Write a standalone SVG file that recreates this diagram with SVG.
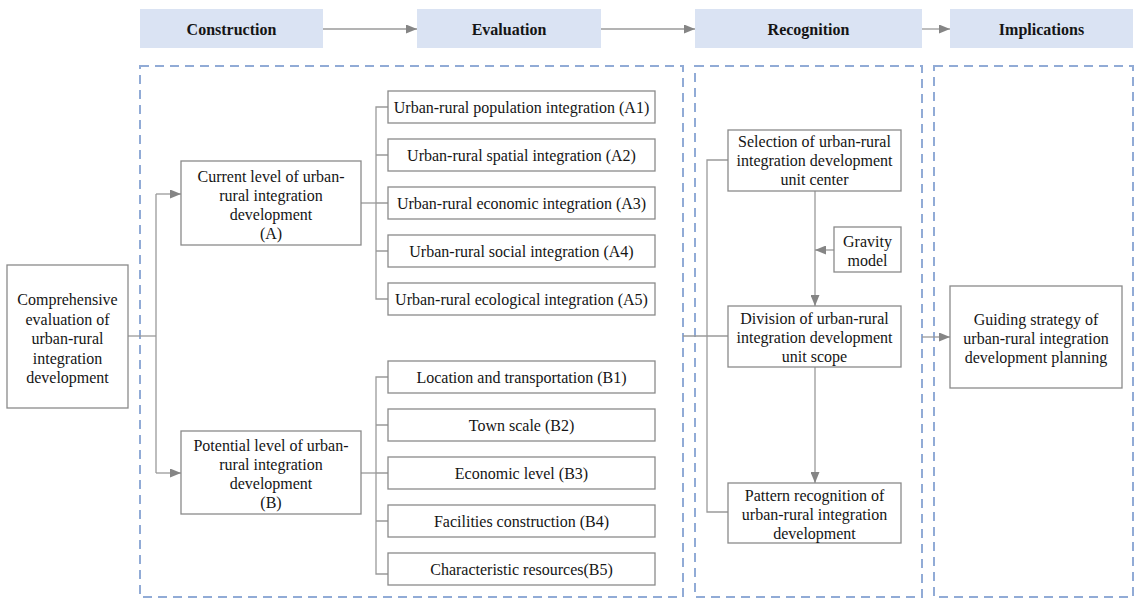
<svg xmlns="http://www.w3.org/2000/svg" width="1138" height="600" viewBox="0 0 1138 600" font-family="'Liberation Serif', Tinos, 'Times New Roman', 'DejaVu Serif', serif">
  <style>
    text { font-family: "Liberation Serif", Tinos, "Times New Roman", "DejaVu Serif", serif; font-size: 16px; fill: #151515; text-anchor: middle; }
    .hdr rect { fill: #dae3f3; }
    .hdr text { font-weight: bold; }
    .box { fill: #ffffff; stroke: #8a8a8a; stroke-width: 1.3; }
    .zone { fill: none; stroke: #91abd6; stroke-width: 2; stroke-dasharray: 9 6; }
    .link { fill: none; stroke: #9a9a9a; stroke-width: 1.3; }
    .arrow { marker-end: url(#head); }
  </style>
  <defs>
    <marker id="head" markerUnits="userSpaceOnUse" markerWidth="11" markerHeight="9" refX="11" refY="4.5" orient="auto">
      <path d="M0,0 L11,4.5 L0,9 z" fill="#858585"/>
    </marker>
  </defs>

  <rect width="1138" height="600" fill="#ffffff"/>

  <!-- stage headers -->
  <g id="hdr-construction" class="hdr"><rect x="140" y="9" width="183" height="39"/><text x="231.5" y="34.5">Construction</text></g>
  <g id="hdr-evaluation" class="hdr"><rect x="417" y="9" width="184" height="39"/><text x="509" y="34.5">Evaluation</text></g>
  <g id="hdr-recognition" class="hdr"><rect x="695" y="9" width="227" height="39"/><text x="808.5" y="34.5">Recognition</text></g>
  <g id="hdr-implications" class="hdr"><rect x="950" y="9" width="183" height="39"/><text x="1041.5" y="34.5">Implications</text></g>

  <!-- dashed stage zones -->
  <g id="zones">
    <rect class="zone" x="140" y="66" width="543" height="531"/>
    <rect class="zone" x="695" y="66" width="227" height="531"/>
    <rect class="zone" x="934" y="66" width="199" height="531"/>
  </g>

  <!-- connectors -->
  <g id="connectors">
    <line class="link arrow" x1="323" y1="29" x2="417" y2="29"/>
    <line class="link arrow" x1="601" y1="29" x2="695" y2="29"/>
    <line class="link arrow" x1="922" y1="29" x2="950" y2="29"/>

    <!-- comprehensive evaluation to A / B -->
    <line class="link" x1="128" y1="336" x2="156" y2="336"/>
    <line class="link" x1="156" y1="194" x2="156" y2="473"/>
    <line class="link arrow" x1="156" y1="194" x2="181" y2="194"/>
    <line class="link arrow" x1="156" y1="473" x2="181" y2="473"/>

    <!-- A to A1..A5 -->
    <line class="link" x1="361" y1="203" x2="376" y2="203"/>
    <path class="link" d="M388,107 H376 V299 H388 M376,155 H388 M376,251 H388 M376,203 H388"/>

    <!-- B to B1..B5 -->
    <line class="link" x1="361" y1="473" x2="376" y2="473"/>
    <path class="link" d="M388,377 H376 V574 H388 M376,425 H388 M376,521 H388 M376,473 H388"/>

    <!-- evaluation to recognition -->
    <line class="link" x1="683" y1="336" x2="728" y2="336"/>
    <path class="link" d="M728,160 H707 V512 H728"/>
    <line class="link arrow" x1="815" y1="191" x2="815" y2="306"/>
    <line class="link arrow" x1="834" y1="250" x2="815" y2="250"/>
    <line class="link arrow" x1="815" y1="367" x2="815" y2="483"/>

    <!-- recognition to implications -->
    <line class="link arrow" x1="922" y1="337" x2="950" y2="337"/>
  </g>

  <g id="n-comprehensive">
    <rect class="box" x="7" y="265" width="121" height="143"/>
    <text x="67.5" y="305">Comprehensive</text>
    <text x="67.5" y="324.5">evaluation of</text>
    <text x="67.5" y="344">urban-rural</text>
    <text x="67.5" y="363.5">integration</text>
    <text x="67.5" y="383">development</text>
  </g>

  <g id="n-current">
    <rect class="box" x="181" y="161" width="180" height="84"/>
    <text x="271" y="181.5">Current level of urban-</text>
    <text x="271" y="200.5">rural integration</text>
    <text x="271" y="219.5">development</text>
    <text x="271" y="238.5">(A)</text>
  </g>

  <g id="n-potential">
    <rect class="box" x="181" y="431" width="180" height="83"/>
    <text x="271" y="450.5">Potential level of urban-</text>
    <text x="271" y="469.5">rural integration</text>
    <text x="271" y="488.5">development</text>
    <text x="271" y="508">(B)</text>
  </g>

  <g id="n-a1"><rect class="box" x="388" y="91" width="267" height="32"/><text x="521.5" y="112.5">Urban-rural population integration (A1)</text></g>
  <g id="n-a2"><rect class="box" x="388" y="139" width="267" height="32"/><text x="521.5" y="160.5">Urban-rural spatial integration (A2)</text></g>
  <g id="n-a3"><rect class="box" x="388" y="187" width="267" height="32"/><text x="521.5" y="208.5">Urban-rural economic integration (A3)</text></g>
  <g id="n-a4"><rect class="box" x="388" y="235" width="267" height="32"/><text x="521.5" y="256.5">Urban-rural social integration (A4)</text></g>
  <g id="n-a5"><rect class="box" x="388" y="283" width="267" height="32"/><text x="521.5" y="304.5">Urban-rural ecological integration (A5)</text></g>

  <g id="n-b1"><rect class="box" x="388" y="361" width="267" height="32"/><text x="521.5" y="382.5">Location and transportation (B1)</text></g>
  <g id="n-b2"><rect class="box" x="388" y="409" width="267" height="32"/><text x="521.5" y="430.5">Town scale (B2)</text></g>
  <g id="n-b3"><rect class="box" x="388" y="457" width="267" height="32"/><text x="521.5" y="478.5">Economic level (B3)</text></g>
  <g id="n-b4"><rect class="box" x="388" y="505" width="267" height="32"/><text x="521.5" y="526.5">Facilities construction (B4)</text></g>
  <g id="n-b5"><rect class="box" x="388" y="553" width="267" height="32"/><text x="521.5" y="574.5">Characteristic resources(B5)</text></g>

  <g id="n-selection">
    <rect class="box" x="728" y="130" width="173" height="61"/>
    <text x="814.5" y="147">Selection of urban-rural</text>
    <text x="814.5" y="166">integration development</text>
    <text x="814.5" y="185">unit center</text>
  </g>

  <g id="n-gravity">
    <rect class="box" x="834" y="227" width="67" height="45"/>
    <text x="867.5" y="247">Gravity</text>
    <text x="867.5" y="266">model</text>
  </g>

  <g id="n-division">
    <rect class="box" x="728" y="306" width="173" height="61"/>
    <text x="814.5" y="323.5">Division of urban-rural</text>
    <text x="814.5" y="342.5">integration development</text>
    <text x="814.5" y="361.5">unit scope</text>
  </g>

  <g id="n-pattern">
    <rect class="box" x="728" y="483" width="173" height="60"/>
    <text x="814.5" y="500.5">Pattern recognition of</text>
    <text x="814.5" y="519.5">urban-rural integration</text>
    <text x="814.5" y="538.5">development</text>
  </g>

  <g id="n-guiding">
    <rect class="box" x="950" y="286" width="172" height="102"/>
    <text x="1036" y="325">Guiding strategy of</text>
    <text x="1036" y="344">urban-rural integration</text>
    <text x="1036" y="363">development planning</text>
  </g>
</svg>
